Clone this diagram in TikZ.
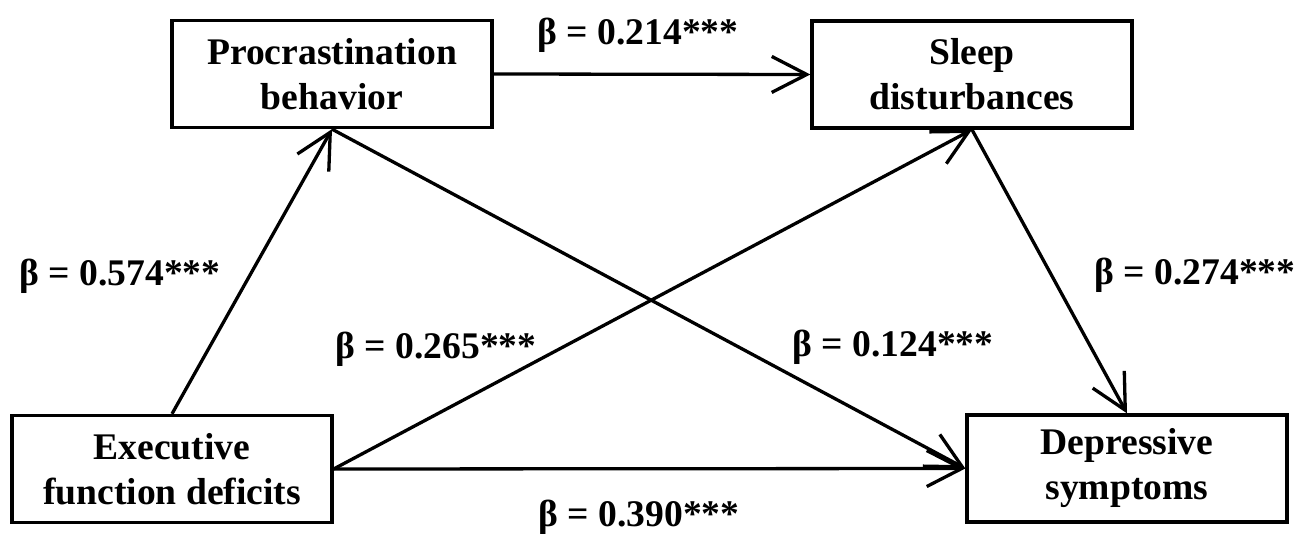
\documentclass[tikz,border=0pt]{standalone}
\usepackage{fontspec}
\setmainfont{Liberation Serif}
\usetikzlibrary{arrows.meta}
\begin{document}
\begin{tikzpicture}[x=0.5pt,y=-0.5pt,
  box/.style={draw, line width=1.65pt, minimum width=160pt, minimum height=53.5pt,
    align=center, inner sep=0pt, font=\fontsize{18.8}{22.5}\selectfont\bfseries},
  coef/.style={anchor=base, inner sep=0pt, font=\fontsize{18.8}{22}\selectfont\bfseries},
  arr/.style={draw, line width=1.65pt, -{Straight Barb[length=17.5pt,width=18pt]}}
]
\useasboundingbox (0,0) rectangle (1297,534);

\node[box] (P) at (332,74) {Procrastination\\behavior};
\node[box] (S) at (972,74.5) {Sleep\\disturbances};
\node[box] (E) at (172,469) {Executive\\function deficits};
\node[box] (D) at (1127,468.5) {Depressive\\symptoms};

\draw[arr] (E.north) -- (P.south);
\draw[arr] (P.east) -- (S.west);
\draw[arr] (E.east) -- (S.south);
\draw[arr] (P.south) -- (D.west);
\draw[arr] (S.south) -- (D.north);
\draw[arr] (E.east) -- (D.west);

\node[coef] (b1) at (120,286) {β = 0.574***};
\node[coef] (b2) at (638,45) {β = 0.214***};
\node[coef] (b3) at (436,359) {β = 0.265***};
\node[coef] (b4) at (893,357) {β = 0.124***};
\node[coef] (b5) at (1195,285) {β = 0.274***};
\node[coef] (b6) at (639,526) {β = 0.390***};
\end{tikzpicture}
\end{document}
